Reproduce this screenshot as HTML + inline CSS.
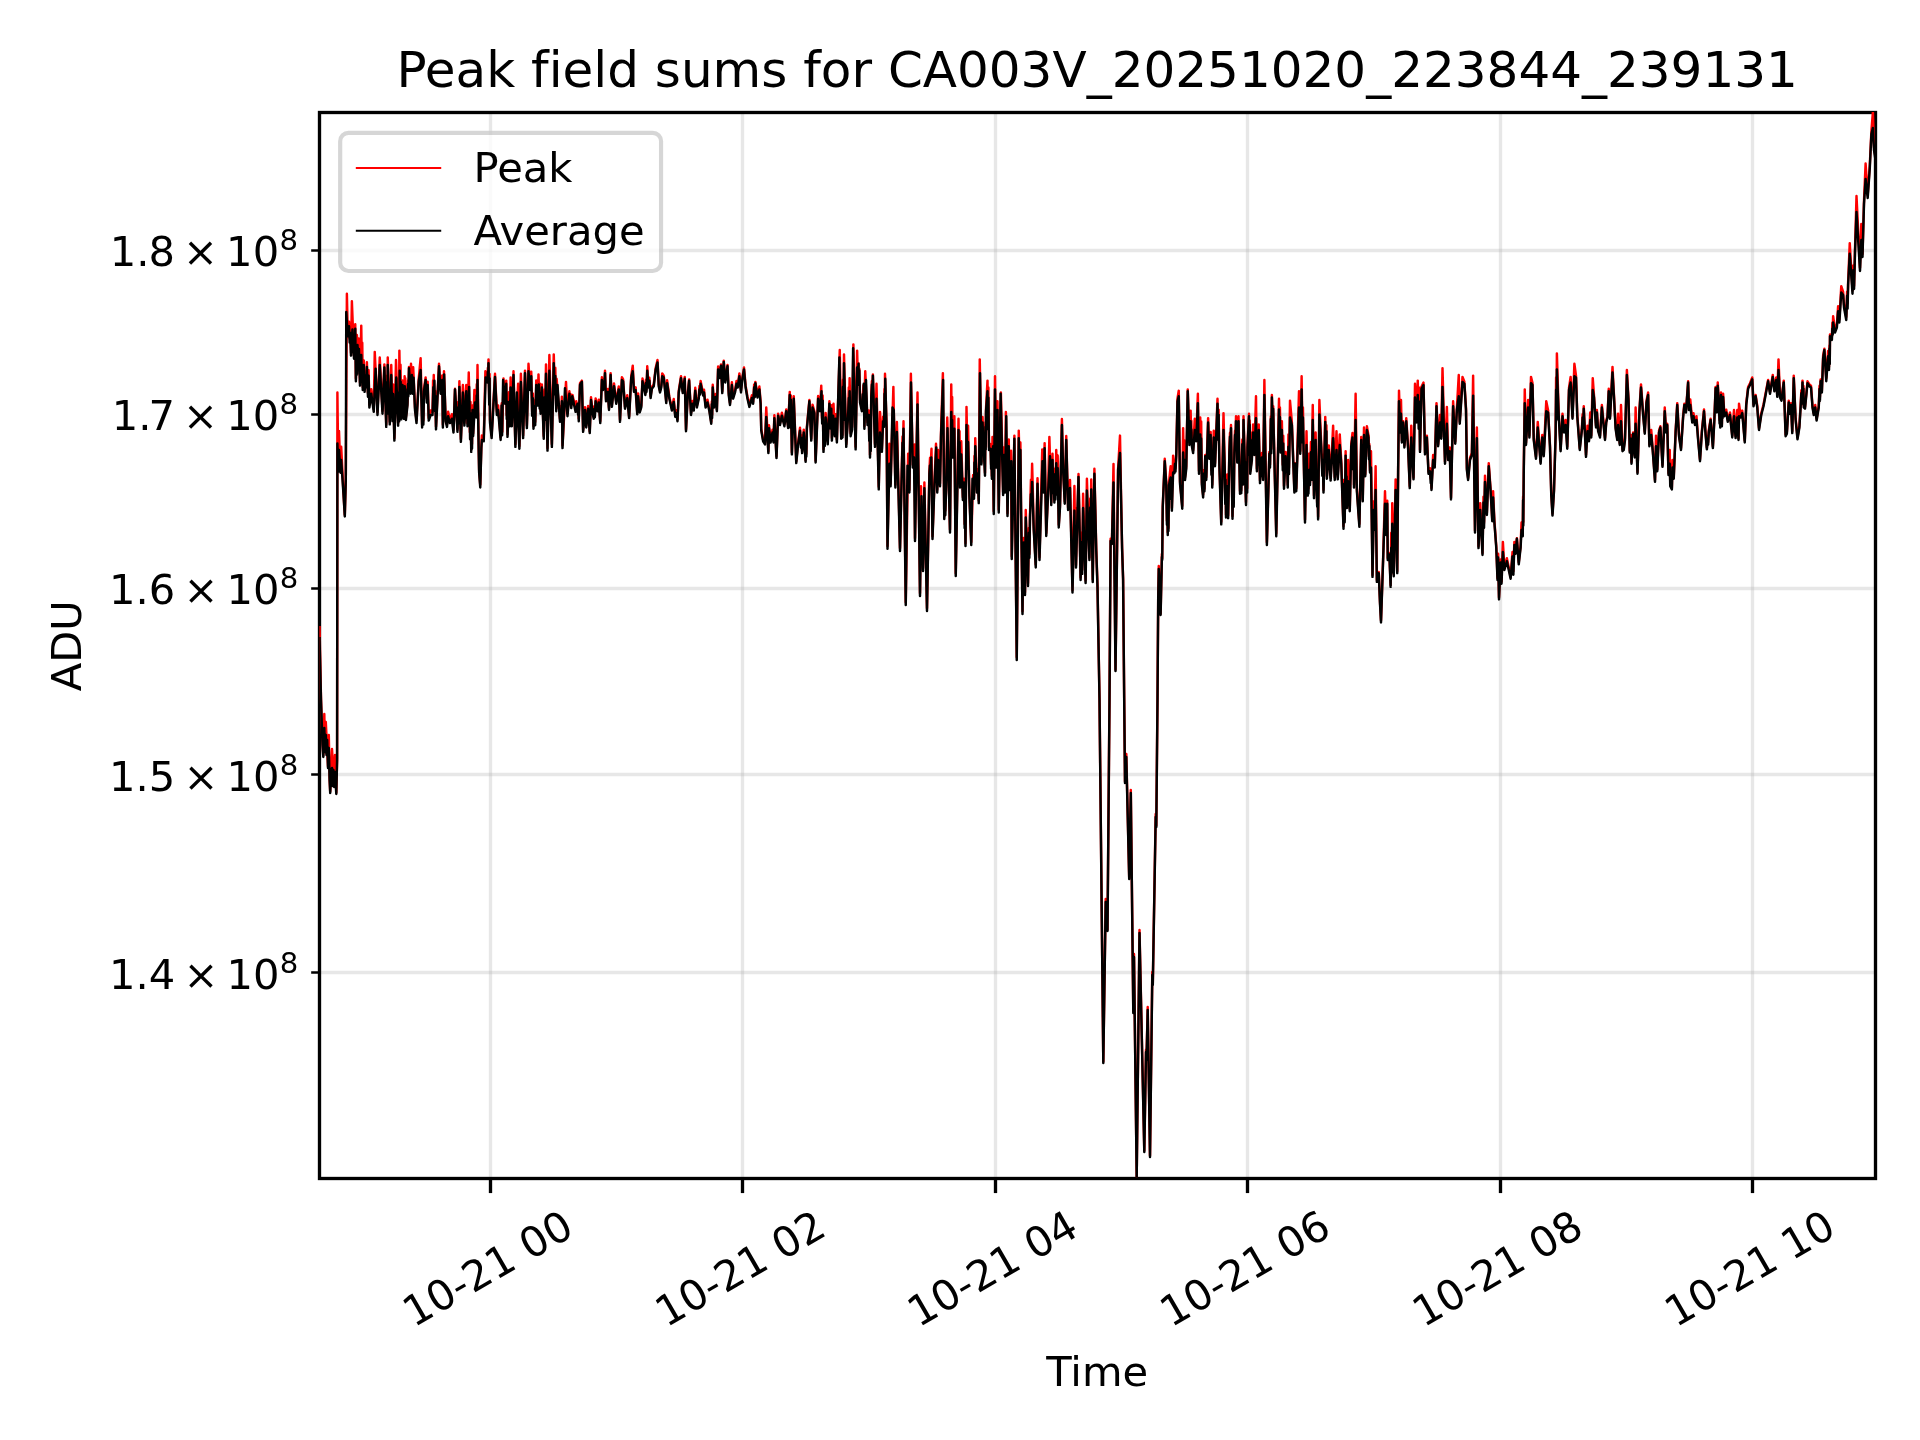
<!DOCTYPE html>
<html lang="en"><head><meta charset="utf-8"><title>Peak field sums for CA003V_20251020_223844_239131</title>
<style>html,body{margin:0;padding:0;background:#fff;overflow:hidden}svg{display:block;will-change:transform}text{font-family:"DejaVu Sans","Liberation Sans",sans-serif;fill:#000;font-variant-ligatures:none}.t{font-size:41.667px}.g{stroke:#b0b0b0;stroke-opacity:.3;stroke-width:3.333;fill:none}.d{fill:none;stroke-width:2.45;stroke-linejoin:round;stroke-linecap:butt}</style></head><body>
<svg width="1920" height="1440" viewBox="0 0 1920 1440">
<defs><clipPath id="c"><rect x="319.35" y="112" width="1555.65" height="1065.61"/></clipPath></defs>
<rect width="1920" height="1440" fill="#fff"/>
<path class="g" d="M490.5 1178.5 V112.5"/><path d="M490.5 1178.5 v14.58" stroke="#000" stroke-width="3.333"/>
<path class="g" d="M742.5 1178.5 V112.5"/><path d="M742.5 1178.5 v14.58" stroke="#000" stroke-width="3.333"/>
<path class="g" d="M995.5 1178.5 V112.5"/><path d="M995.5 1178.5 v14.58" stroke="#000" stroke-width="3.333"/>
<path class="g" d="M1247.5 1178.5 V112.5"/><path d="M1247.5 1178.5 v14.58" stroke="#000" stroke-width="3.333"/>
<path class="g" d="M1500.5 1178.5 V112.5"/><path d="M1500.5 1178.5 v14.58" stroke="#000" stroke-width="3.333"/>
<path class="g" d="M1752.5 1178.5 V112.5"/><path d="M1752.5 1178.5 v14.58" stroke="#000" stroke-width="3.333"/>
<path class="g" d="M319.5 972.5 H1875.5"/><path d="M319.5 972.5 h-8.33" stroke="#000" stroke-width="2.5"/>
<path class="g" d="M319.5 774.5 H1875.5"/><path d="M319.5 774.5 h-8.33" stroke="#000" stroke-width="2.5"/>
<path class="g" d="M319.5 588.5 H1875.5"/><path d="M319.5 588.5 h-8.33" stroke="#000" stroke-width="2.5"/>
<path class="g" d="M319.5 414.5 H1875.5"/><path d="M319.5 414.5 h-8.33" stroke="#000" stroke-width="2.5"/>
<path class="g" d="M319.5 250.5 H1875.5"/><path d="M319.5 250.5 h-8.33" stroke="#000" stroke-width="2.5"/>
<rect x="319.5" y="112.5" width="1556" height="1066" fill="none" stroke="#000" stroke-width="3.333"/>
<g clip-path="url(#c)">
<polyline class="d" stroke="#f00" points="319.5,626 321,698.5 322.5,743.5 323.3,755.5 324.3,714 325,750.5 325.8,722 326.5,753.5 325.8,722 328,766.5 328.8,735 329.6,778.5 330.2,791.5 331.2,768.5 332,749 332.6,784.5 332,749 334.2,785.5 335,755 336.3,792.5 337.1,758.5 337.4,392.5 338.3,470.2 339,431 340.5,471.2 341.2,446.7 343.5,493.1 344.8,515 345.8,478.5 346.88,293.75 347.75,333.55 349,321.65 349.64,338.5 350.2,327.34 351,352.93 351.88,301.25 354,356.05 354.62,334.88 354.98,346.81 355.25,324.15 355.88,378.55 356.34,349.53 356.6,369.2 356.88,335 357.85,358.48 358.69,338.44 360,382.93 361.25,325.62 361.94,370.75 362.27,342.69 362.75,387.3 363.75,360.4 364.62,389.18 365.74,370.86 366.29,383.35 366.88,362.27 367.96,392.97 368.6,370.14 369.38,404.8 371.25,389.15 373.75,409.18 374.75,351.88 377.5,412.3 379.75,357.5 382.5,411.05 384.38,364.38 386.25,424.18 386.91,375.62 387.36,409.12 387.75,357.5 389.75,421.68 390.34,387.5 390.66,406.61 391.25,365 392.43,415.13 393.08,384.39 394.38,437.93 396,360 398.12,422.93 398.6,378.9 398.96,416.79 399.38,350.62 400.03,389.83 400.51,364.84 401.25,416.68 401.77,388.09 402.1,403.53 402.5,380.4 403.1,407.63 403.46,389.81 403.75,416.05 404.12,392.27 404.3,405.93 404.62,376.25 405,395.92 405.26,378.17 405.88,417.3 407.5,402.3 408.03,380.41 408.38,391.84 409,366.88 410.62,391.05 411,363.75 412.28,386.9 413.19,367.19 415,407.3 416.5,420.43 418.75,378.55 420.62,358.12 422.12,424.8 422.89,402.63 423.37,420.51 424,388.55 425.62,377.5 426.79,398.45 427.66,381.84 428.75,417.93 430.62,410.4 432.5,412.3 433.08,380.48 433.43,399.34 433.75,375 434.66,406.72 435.11,390.9 436,426.68 439,363.75 440.62,391.05 442.25,375.4 442.88,424.8 444,371.25 445.62,418.55 447,424.18 448.12,411.65 450,420.43 451.88,414.15 453.5,429.8 455,388.75 457.5,429.18 458.15,402.07 458.56,418.35 459.38,381.25 460.88,439.18 462.88,385 464.38,422.93 466.25,385 466.79,413.5 467.14,395.3 467.5,423.55 468.75,372.5 469.9,432.29 470.5,402.04 471.25,449.18 471.66,426.75 472.02,444.02 472.5,405.4 473.12,433.55 474.38,390 476.25,414.8 476.76,384.32 477.01,409.76 477.5,365 478.75,451.05 479.12,469.8 480.25,484.8 481.38,444.8 481.88,435.4 483.75,438.55 485.38,371.25 487.5,379.8 487.85,367.86 488.07,376.67 488.5,359.38 489.22,400.03 489.59,374.06 490,419.8 491.62,435.43 495,373.75 496.88,412.3 498.12,405.4 500.62,437.3 501.74,403.17 502.32,431.65 503.5,378.5 505,401.05 506.25,380.62 506.75,415.1 507.1,398.24 507.5,434.18 508.92,392.34 509.72,421.05 510.62,377.5 511.88,423.55 513.5,371.25 515.38,444.18 518.12,383.75 519.38,446.05 520.88,373.75 523.12,435.43 525,370.62 526.88,425.43 528.5,363.75 530,387.3 531.25,371.65 532.18,412.24 532.82,393.41 533.5,426.05 534.46,400.85 535.19,422.09 536.25,380.4 537.5,402.93 538.5,374.38 539.51,403.65 539.98,383.74 540.62,411.05 541.88,384.38 543.75,436.05 544.62,389.58 545.15,413.78 546,364.38 547.5,447.93 549.38,355 551.88,444.18 553.75,354.38 554.78,388.28 555.28,367.76 556.25,408.55 556.44,384.04 556.55,394.21 556.62,378.75 560,419.18 560.61,406.04 561.16,417.07 561.88,396.65 562.5,445.43 566,381.88 567.5,413.55 569.38,391.25 569.96,397.87 570.41,393.96 571.25,405.43 572.5,395 575.62,409.18 576.25,401.25 577.43,411.55 578.14,403.97 578.75,418.55 580,383.2 581.88,380.62 583.12,430.07 585,407.2 586.25,425.7 588.12,405.95 589.75,431.32 591,397.2 592.5,410.7 593.75,416.95 594.39,406.14 594.82,414.47 595.62,398.45 597.5,409.45 598.75,399.7 600.25,421.32 601.88,377.2 603.12,388.2 603.78,378.98 604.29,385.84 605,370.62 606,399.45 607.75,389.07 609,408.2 610.62,373.12 611.88,405.07 614,383.45 616.25,401.95 618.75,386.57 620,420.07 621.88,377.2 623.12,379.45 625,406.95 627.25,395.32 629.12,416.32 631.25,375.7 632.75,365.62 634,390.07 635.62,387.2 637.25,412.57 638.12,393.45 639.75,410.7 641.25,405.7 642.5,378.45 644.38,388.2 645.38,393.2 645.99,379.67 646.5,389.63 647.25,366.25 648.5,385.7 649.38,377.82 650.62,396.32 651.88,386.95 653.75,384.45 655.62,368.2 657.5,360 658.75,384.45 660,390.7 661.25,385.7 662.25,373.45 663.75,375.7 666.25,401.32 667.12,380.32 669.38,396.95 671.88,408.82 673.75,399.07 675.25,415.07 676.25,410.32 677.5,419.45 678.75,390.7 681,376.25 682.75,391.32 684.75,376.88 686,429.45 687.75,393.2 689.12,379.38 691,413.2 692.5,400.95 693.75,408.82 695.25,387.82 696.88,405.7 698.75,396.95 699.46,386 699.92,392.6 700.62,380.95 703.12,393.82 704,389.7 705.62,405.7 707.5,399.7 709.38,409.45 711.25,421.95 711.82,401.44 712.12,414.74 712.75,384.7 714,405.7 715.62,394.07 716.88,409.45 718.12,366.57 719.38,376.32 721,364.38 722.25,391.32 723.75,360.62 725.25,380.7 727.5,365 728.75,393.2 730,403.2 731.88,382.2 733.12,396.95 735,390.7 736.5,380.95 737.75,385.7 739.38,373.45 741,390.7 742.25,378.2 744,367.5 745.62,385.7 747.5,396.95 749.38,405.07 751.88,395.32 753.12,401.95 754.18,384.36 754.77,395.41 755.38,381.88 757.5,395.7 759.38,386.57 760.62,401.95 761.25,428.82 763.12,439.45 765,442.57 766.25,407.5 768.38,451.32 769,425.32 770.62,440.7 772.5,429.7 773.5,440.7 774.38,415.32 776.5,456.32 778.12,413.75 780,423.2 781.88,412.82 784.38,424.45 786.25,409.38 788.12,426.32 789.75,391.88 790.44,424.07 790.89,395.48 791.88,452.57 793.75,396.25 796.25,461.32 798.12,442.57 800,427.82 800.98,444.35 801.51,435.34 802.12,451.32 803.75,429.7 805.62,460.07 806.07,436.63 806.34,453.65 806.88,426.95 809.38,400 811.25,438.82 812.5,404.7 814.38,411.32 815.62,460.7 818.12,395.95 820,408.55 821.25,385.62 821.99,418.19 822.61,395.4 823.5,449.18 824.25,425.44 824.82,442 825.62,412.9 827.75,441.68 829.38,401.25 830.57,425.74 831.32,405.27 831.88,437.93 833.5,403.75 834.75,433.55 835.62,414.15 836.88,439.8 839.75,350 841.25,436.05 842.5,434.8 843.01,379.74 843.34,414.79 844,354.38 846.25,444.18 848.12,412.3 848.82,387.38 849.25,402.3 849.62,378.12 850.62,433.55 852.12,426.68 853.38,344.38 855.62,446.68 857.12,350.62 857.88,379.8 858.5,363.12 858.95,382.98 859.32,368.8 860,399.8 861.88,408.55 863.45,385.24 864.38,402.65 865.25,371.25 864.38,426.05 865.25,371.25 867.5,422.3 868.75,410.4 869.22,436.45 869.59,416.46 870,454.8 870.39,424.13 870.74,447.79 871.25,394.8 871.9,380.98 872.29,391.54 872.88,374.38 875,444.18 876.5,383.75 878.75,486.68 880,411.88 881.88,449.18 883.12,416.65 884,424.18 884.45,388.98 884.72,412.71 885,373.75 886.62,427.3 887.5,546.05 889.38,443.75 889.87,466.2 890.16,448.34 890.62,483.55 893.38,386.88 893.75,407.3 895.38,484.8 896.88,421.88 900,548.3 901.88,464.8 902.54,436.5 902.9,449.93 903.5,421.25 905.75,602.3 908.12,453.75 909.38,489.8 910.88,373.75 912.75,464.8 914.62,444.38 915,538.3 917.5,392.5 920,593.3 921,486.25 921.96,554.01 922.45,526.74 923,568.3 924.38,482.5 927,608.3 929.38,471.05 930.05,457.77 930.53,467.77 931.5,448.75 932.5,536.3 934.38,483.55 936,443.75 937.25,489.8 938.12,450 938.81,467.53 939.24,451.68 940,483.55 941,433.55 942.88,373.12 944.25,516.3 944.87,499.71 945.29,510.83 946,489.8 947.25,417.5 950,529.8 951.25,384.38 951.71,425.34 952.14,397.05 952.75,454.8 953.54,423.44 954,444.66 954.38,416.25 955.75,573.3 958.5,418.75 959.11,463.09 959.55,431.12 960,484.8 961.25,441.25 962.88,497.3 963.39,484.58 963.72,493.49 964,478.75 964.64,523.98 964.96,503.36 965.5,543.3 966.5,406.88 967.49,459.25 968.07,425.72 969.38,493.55 971.25,542.3 973.12,475 974,496.05 974.44,455.95 974.77,476.83 975.25,438.12 976.88,489.8 977.75,469.15 978.75,500.43 979.75,359.38 981.5,461.68 981.93,426.57 982.16,440.23 982.5,416.88 985,472.93 985.46,422.24 985.71,446.17 986,408.55 987.5,380.62 988.02,422.73 988.36,387.48 989,447.3 990.62,444.15 991.1,464.62 991.47,454.25 991.88,476.05 992.5,436.88 993.75,511.3 995,376.25 996.25,464.8 996.64,433.01 996.94,458.25 997.5,401.25 998.75,509.8 1000.88,392.5 1003.12,492.3 1003.75,447.5 1005,489.8 1005.88,411.88 1007.5,513.3 1008.75,439.38 1009.17,470.36 1009.51,456.17 1010,487.3 1010.37,466.42 1010.57,478.78 1011,450.62 1011.75,556.3 1014.38,435.62 1016.75,657.3 1018.75,430.62 1019.86,478.03 1020.39,442.59 1021,502.3 1022.5,611.3 1022.99,565.12 1023.36,589.62 1023.75,537.9 1024.23,575.61 1024.57,558.68 1025,592.3 1025.75,510 1028,583.3 1028.9,528.01 1029.37,553.91 1030,514.8 1030.94,479.77 1031.43,494.81 1032.12,463.75 1033.75,527.3 1035.75,564.8 1037.5,478.12 1039.5,557.3 1042.25,449.38 1042.77,472.53 1043.21,452.11 1043.75,489.8 1044.62,443.12 1046.25,533.3 1048.12,489.8 1049.38,436.88 1051.25,502.3 1051.83,464.27 1052.18,488.78 1052.5,453.75 1053.2,483.5 1053.59,468.43 1054.38,499.8 1054.95,469.78 1055.39,493.84 1056.25,450 1057.04,485.47 1057.67,455.52 1058.75,524.8 1060,505.1 1061.9,419 1063.1,467.6 1064.75,501.35 1066.25,436 1068.1,507.6 1070,480 1072.5,590.1 1074.4,486 1075.15,538.07 1075.56,508.04 1076,565.1 1078.5,474 1080.6,577.6 1081.47,532.53 1082.19,569.67 1083.1,493.75 1085.6,580.6 1086.9,478.75 1089.4,557.6 1090.25,498.6 1090.81,523.37 1091.25,479.4 1092.75,579.6 1094.4,468.75 1096.25,548.6 1097.5,585.1 1099.5,698.5 1103.3,1061.5 1105.7,899 1107.5,929.5 1109.5,698.5 1110.6,538.8 1111.9,542.5 1113.5,464 1115.5,669.5 1118.1,468.5 1120,435.6 1121.25,506 1122.1,547.5 1123.1,578.5 1124.2,698.5 1125,781.5 1126.3,754 1129.2,877.5 1130.8,790 1133.3,1011.5 1134,954 1136.7,1176.5 1139.5,930 1144.3,1150.5 1146,1049.8 1146.5,1058.5 1147.7,1007 1150,1155.5 1152.3,972 1152.8,983.5 1155.7,814 1156.3,825.5 1157.5,698.5 1158.2,598.5 1158.75,566 1160.6,613.5 1161.9,554 1162.2,558.5 1162.75,505.5 1164.75,458.75 1166.25,482.3 1166.93,520.79 1167.25,499.15 1167.75,532.3 1168.16,505.04 1168.44,527.89 1169,482.3 1170.62,466.25 1171.08,492.98 1171.35,476.04 1171.88,507.93 1173.12,455.62 1174.38,470.43 1174.98,460.97 1175.45,468.59 1176.25,453.55 1177.5,398.55 1178.75,390.62 1180,481.05 1182.25,506.05 1183.12,428.12 1183.8,461.94 1184.24,440.1 1185,477.3 1186.25,466.05 1187.75,389.38 1189.38,442.3 1190.62,410.62 1191.05,429.73 1191.32,420.76 1191.88,443.55 1193.12,450.43 1194.75,418.75 1196.25,438.55 1197.88,393.75 1199,471.05 1200.25,417.5 1200.74,453.82 1201.17,421.44 1201.88,482.3 1203.12,494.8 1203.98,469.86 1204.46,488.62 1205.25,455 1206.25,477.3 1208.12,418.12 1209.38,456.05 1209.78,439.89 1210.15,448.32 1210.62,431.88 1211.41,470.26 1211.87,453.39 1212.25,484.8 1213.75,430.62 1215,463.55 1217.5,398.75 1218.14,435.67 1218.62,409.77 1219.38,463.55 1221.25,521.67 1223.5,413.12 1224.75,467.3 1225.27,500.98 1225.52,475.81 1226,514.8 1227.25,474.38 1228.12,515.42 1229.38,449.8 1230,432.77 1230.39,444.31 1231,425 1232.5,516.05 1233.29,469.99 1233.71,503.16 1234.38,449.8 1235.02,430.63 1235.36,443.6 1236,416.25 1237.25,459.8 1237.78,432.92 1238.13,455.37 1238.5,416.25 1240,491.05 1241.25,490.43 1242.35,439.46 1243,480.01 1243.5,416.25 1246,502.3 1246.74,459.15 1247.19,488.32 1247.5,444.8 1249,413.75 1249.46,451.67 1249.73,420.56 1250.25,471.05 1251.88,457.3 1252.38,432.11 1252.65,444.52 1253.12,424.38 1253.55,437.07 1253.91,426.27 1254.38,452.3 1256,396.25 1256.88,468.55 1257.64,437.25 1258.08,460.09 1258.75,424.38 1260,480.43 1260.93,458.58 1261.38,470.87 1261.88,452.9 1263.12,477.3 1264.38,380 1266.88,542.3 1269.38,451.88 1270,464.8 1270.85,416.44 1271.26,448.82 1271.88,395 1272.68,422.3 1273.16,406.13 1273.75,431.05 1276.25,533.55 1279,398.75 1279.54,427.75 1279.93,407.42 1280.62,449.8 1281.16,432.88 1281.41,443.48 1281.88,421.25 1282.76,464.66 1283.23,435.79 1284,486.05 1285.62,451.88 1286.33,466.74 1286.89,453.71 1287.75,484.8 1288.43,434.58 1289.01,467.61 1290,400.62 1291.88,422.3 1294.38,489.8 1295,463.12 1296.25,488.55 1299,391.25 1299.6,429.02 1299.92,405.37 1300.25,451.05 1301.62,376.25 1302.5,435.69 1302.95,407.53 1303.75,457.3 1305,519.8 1306.5,431.25 1307.75,492.93 1308.2,468.95 1308.46,488.36 1309,453.75 1309.47,474.77 1309.72,461.36 1310,482.3 1310.95,441.93 1311.6,474.43 1312.75,405 1314,495.43 1315.62,432.5 1316.5,479.8 1317.17,503.16 1317.62,486.52 1318.12,516.67 1319.38,400 1321.25,444.8 1322.32,471.62 1322.83,455.06 1323.5,489.8 1325.25,416.88 1326.02,456.55 1326.39,425.24 1326.88,476.05 1328.75,445.4 1330.62,477.93 1333.12,425.62 1334.75,477.3 1336.5,431.25 1337.75,476.68 1339.75,434.38 1341.25,461.05 1343.5,526.05 1344.23,479.62 1344.67,519.32 1345.62,451.25 1346.23,489.35 1346.5,471.4 1346.88,505.43 1348.12,460 1349.75,508.55 1351.25,443.55 1352.5,432.9 1353.13,464.37 1353.55,439.82 1354,484.8 1355.62,393.75 1356.88,488.55 1359.38,524.17 1361.25,436.9 1361.76,467.32 1362.07,440.62 1362.75,499.3 1364,427.5 1365.25,474.3 1366.88,426.25 1368.5,435.55 1368.98,456.44 1369.31,443.95 1370,470.55 1371,451.25 1372.5,574.92 1373.75,501.25 1374.38,528.05 1375.62,466.25 1376.88,579.92 1378.75,571.88 1380,601.8 1381,620.55 1383.12,558.05 1385,491.25 1386.25,533.05 1387.25,500.65 1387.75,558.05 1389.38,553.12 1390.62,584.92 1391.25,532.81 1391.7,564.78 1392.25,503.12 1393.75,574.3 1395.62,479.38 1397.25,571.17 1398.12,470.55 1399,390.62 1400.25,430.55 1401,400 1401.88,440.55 1402.45,426.52 1402.71,432.85 1403.12,421.25 1403.62,435.97 1403.97,427.85 1404.38,445.55 1406.25,418.12 1408.12,446.8 1409.75,486.18 1411.25,425.62 1413.5,477.43 1415,383.75 1416.5,420.55 1417.75,380.62 1418.71,420.18 1419.34,387.63 1420,449.93 1421.5,386.8 1423.5,382.5 1425,452.43 1426.88,435.62 1428.5,471.8 1430,468.15 1430.72,478.94 1431.05,472.46 1431.5,488.05 1433.12,455 1434.75,465.55 1436.5,403.12 1438.12,444.3 1440,415 1441.25,436.8 1442.5,368.12 1445,461.8 1446.88,406.88 1448.12,458.05 1449.75,447.5 1451,497.43 1453.12,401.25 1455.25,441.8 1456.88,408.05 1458.75,375 1459.75,421.8 1462.5,376.88 1464.38,381.8 1466,408.05 1466.88,468.05 1468.12,478.05 1470,458.05 1471.88,453.05 1473.12,375.62 1475,530.55 1476.88,427.5 1478.5,546.17 1480.25,503.12 1482.5,553.05 1483.48,496.75 1484.04,522.88 1485,475.62 1486.88,513.05 1488.75,463.12 1490.62,489.3 1492.25,519.3 1493.12,491.25 1494.38,520.55 1496.25,545.55 1497.5,578.05 1498.12,553.75 1499,597.42 1500.62,559.4 1501.5,581.8 1502.88,541.88 1504.38,568.05 1506.88,558.15 1510.62,576.8 1512.47,552.08 1513.37,571.26 1514.38,541.9 1515.62,551.8 1516.88,538.12 1518.75,562.42 1520.62,545.55 1521.5,522.5 1522.75,534.3 1523.09,496.45 1523.29,522.13 1523.75,470.55 1524.75,389.38 1526,443.05 1528.12,400 1528.65,422.31 1528.99,403.28 1529.38,435.55 1531,376.88 1532.5,383.05 1533.75,438.05 1536,456.8 1537.75,421.88 1540.62,461.8 1542.25,435 1543.75,454.3 1546.25,401.25 1548.12,410.55 1550,445.55 1551.25,493.05 1552.5,513.67 1554,489.3 1555.62,433.05 1556.1,377.54 1556.44,413.64 1556.88,353.38 1558.75,414.3 1560.62,449.3 1562.5,413.75 1564,430.55 1565.62,420 1567.25,446.8 1569,388.05 1570.62,376.88 1572.5,416.8 1574.38,363.75 1576,375.55 1577.25,414.3 1579.75,448.05 1581.88,428.05 1582.64,414.13 1583.16,426.1 1583.75,406.25 1586,454.93 1587.5,425.62 1589,439.3 1590.25,412.5 1591.25,435.55 1592.75,378.12 1594,395.55 1596,425.55 1596.88,410 1598.12,429.3 1600,435.7 1601.88,405 1605,438.2 1606.25,420.7 1607.5,415.7 1608.75,388.75 1610,416.95 1612.5,366.88 1614,395.7 1615.62,426.95 1617.25,438.2 1618.12,413.75 1619.75,443.2 1620.19,420.02 1620.45,434.92 1621,405 1622.5,449.45 1623.75,448.2 1625,438.2 1626.88,370 1628.5,398.2 1629.75,450.7 1631,435 1631.5,461.95 1633.12,432.5 1634.75,455.7 1635.62,407.5 1637.5,471.95 1639.38,410.7 1641,384.38 1643.12,413.2 1644.75,431.95 1646.5,400.7 1648.12,392.5 1649.38,444.45 1651.25,430 1652.75,449.45 1655,480.07 1656,435.62 1657.25,469.45 1659,430.7 1660.38,426.25 1662.5,465.07 1664.75,407.5 1666,430.7 1667.25,423.75 1668.5,473.2 1669.75,450 1670.25,484.45 1671.88,487.57 1672.5,460 1673.75,476.95 1675.62,430.7 1677.25,403.12 1679,434.45 1681,448.2 1683.12,415.7 1684.38,403.75 1686,410.7 1688.12,381.25 1689,408.2 1690.25,399.38 1692.25,420.7 1693.5,413.12 1695,423.2 1696.5,416.25 1698.12,438.2 1700,459.45 1701.88,430.7 1704,409.38 1705.62,433.2 1706.88,447.57 1707.71,435.64 1708.13,442.07 1708.75,430.7 1710.62,418.75 1712.88,446.32 1714.38,418.2 1715.62,386.88 1716.88,410.7 1717.75,382.5 1719,405.7 1719.58,419.97 1719.93,413.67 1720.25,425.7 1721,392.5 1721.88,424.45 1722.25,404.52 1722.58,415.56 1723.12,393.75 1724.38,414.45 1726.25,409.7 1727.75,420.07 1730,412.5 1732.25,435.7 1734,410 1735.62,436.32 1737.25,410 1738.5,438.2 1739,403.75 1740.62,415.7 1742.25,410.62 1744.75,440.7 1746.25,403.2 1748.12,386.95 1750,383.2 1752.25,377.5 1753.5,404.45 1755.62,395 1757.25,405.7 1759,428.2 1761.25,413.2 1763.5,404.45 1765.62,393.2 1768.12,380 1770,391.95 1772.75,375 1774.38,389.45 1776.25,377.5 1777.25,395.07 1778.5,359.38 1780,395.7 1781.5,398.82 1783.75,380.62 1785.62,434.45 1786.88,431.95 1788.75,400.62 1790,411.95 1791,403.12 1792.25,431.32 1793.75,375.62 1795.62,418.2 1797.5,437.57 1799.38,425.7 1800.62,405.7 1801.36,390.27 1801.83,400.27 1802.5,380.62 1803.09,396.79 1803.41,386.03 1803.75,405.7 1805,406.95 1807.5,381.25 1809.38,384.45 1811,385.7 1812.5,405.7 1813.75,413.2 1815.25,405 1816.62,418.82 1818.75,405.7 1819.55,385.79 1819.93,397.2 1820.62,379.38 1821.88,390.7 1823.12,355.75 1824.38,348.75 1826.25,378.25 1828.12,351.05 1829,367 1829.48,345.56 1829.75,359.41 1830,334.38 1831.88,337 1832.37,322.64 1832.71,329.99 1833.12,316.25 1835,329.5 1836.88,324.5 1838.12,306.25 1839.38,319.5 1841.25,286.25 1843.12,292 1844,304.5 1846.25,317 1847.12,291.62 1847.59,303.56 1848.12,282 1849.75,243.12 1852.5,290.75 1853.41,265.53 1854.06,285.94 1855,249.5 1856.5,196 1860,268 1861.3,224 1861.73,238.12 1861.99,225.08 1862.5,254 1864,201 1865.6,163.5 1867.7,195 1869.8,165 1871.4,131 1872.9,112 1874,147 1875.5,157"/>
<polyline class="d" stroke="#000" points="319.5,637 321,700 322.5,745 323.3,757 324.3,728 325,752 325.8,735 326.5,755 327.2,740 328,768 328.8,748 329.6,780 330.2,793 331.2,770 332,768 332.6,786 333.4,770 334.2,787 335,772 336.3,794 337.1,760 337.4,443.5 338.3,471.7 339,450 340.5,472.7 341.2,460 343.5,494.6 344.8,516.5 345.8,480 346.25,311.88 347.75,336.25 349,326.25 349.64,342.5 350.2,332.77 351,355.62 352.5,329.38 354,358.75 354.62,339.11 354.98,350.29 355.25,328.75 355.88,381.25 356.63,357.71 357.05,374.38 357.5,345 358.28,365.44 358.95,348.91 360,385.62 361.25,355 361.94,381.2 362.27,365.68 362.75,390 363.75,365 364.62,391.88 365.74,375.13 366.29,387.37 366.88,366.88 367.96,396.8 368.6,375.72 369.38,407.5 371.25,393.75 373.75,411.88 375.62,368.75 377.5,415 379.75,365 382.5,413.75 384.38,367.5 386.25,426.88 386.91,382.34 387.36,413.62 387.75,365 389.75,424.38 390.34,395.94 390.66,411.48 391.25,375 392.43,421.1 393.08,394.04 394.38,440.62 396.25,377.5 398.12,425.62 398.75,392.36 399.22,421.23 399.75,370.62 400.27,399.57 400.66,381.74 401.25,419.38 401.77,393.46 402.1,408.2 402.5,385 403.1,411.52 403.46,394.67 403.75,418.75 404.18,399.6 404.38,411.04 404.75,386.25 405.09,402.46 405.32,389.27 405.88,420 407.5,405 408.03,383.98 408.38,396.18 409,368.12 410.62,393.75 411.88,375 412.88,393.86 413.58,377.8 415,410 416.5,423.12 418.75,381.25 420.62,370 422.12,427.5 422.89,407.05 423.37,424.6 424,391.25 425.62,380 426.79,402.62 427.66,385.02 428.75,420.62 430.62,415 432.5,415 433.37,387.18 433.9,404.42 434.38,380.62 435.03,411.08 435.36,396.11 436,429.38 439,366.25 440.62,393.75 442.25,380 442.88,427.5 444.12,374.38 445.62,421.25 447,426.88 448.12,416.25 450,423.12 451.88,418.75 453.5,432.5 455,389.38 457.5,431.88 458.15,407.6 458.56,423.4 459.38,386.88 460.88,441.88 462.88,392.5 464.38,425.62 466.25,391.25 466.79,417.99 467.14,400.93 467.5,426.25 469.12,386.88 470.1,439.17 470.61,413.14 471.25,451.88 471.66,430.7 472.02,448.52 472.5,410 473.12,436.25 475,402.5 476.25,417.5 476.76,395.53 477.01,414.5 477.5,380 478.75,453.75 479.12,472.5 480.25,487.5 481.38,447.5 481.88,440 483.75,441.25 485.62,377.5 487.5,382.5 487.85,371.67 488.07,380.32 488.5,363.12 489.22,404.85 489.59,378.38 490,422.5 491.62,438.12 495,376.88 496.88,415 498.12,410 500.62,440 501.6,405.52 502.1,435.2 503.12,380 505,403.75 506.25,383.75 506.75,419.07 507.1,401.72 507.5,436.88 508.92,402.02 509.72,426.21 510.62,387.5 511.88,426.25 513.5,375 515.38,446.88 516.88,392.5 519.38,448.75 520.88,381.88 523.12,438.12 525,373.12 526.88,428.12 528.5,371.25 530,390 531.25,376.25 532.18,415.65 532.82,398.1 533.5,428.75 534.46,406.32 535.19,425.25 536.25,385 537.5,405.62 538.75,384.38 539.64,408.46 540.06,392.66 540.62,413.75 541.88,387.5 543.75,438.75 544.62,397.19 545.15,419.87 546,373.75 547.5,450.62 549.38,370.62 551.88,446.88 553.75,363.12 554.78,394.35 555.28,375.93 556.25,411.25 556.87,390.13 557.24,398.69 557.5,385 560,421.88 560.61,410.32 561.16,420.23 561.88,401.25 562.5,448.12 565,388.12 567.5,416.25 569.38,393.75 569.96,402.36 570.41,397.79 571.25,408.12 572.25,396.25 575.62,411.88 577.5,403.75 578.09,414.85 578.45,407.62 578.75,421.25 580,385 581.88,381.88 583.12,431.88 585,410 586.25,427.5 588.12,408.75 589.75,433.12 591,400 592.5,412.5 593.75,418.75 594.39,409.08 594.82,417.35 595.62,401.25 597.5,411.25 598.75,402.5 600.25,423.12 601.88,380 603.12,390 603.78,381.51 604.29,388.65 605,373.12 606,401.25 607.75,391.88 609,410 610.62,375 611.88,406.88 614,386.25 616.25,403.75 618.75,389.38 620,421.88 621.88,380 623.12,381.25 625,408.75 627.25,398.12 629.12,418.12 631.25,377.5 632.75,371.25 634,391.88 635.62,390 637.25,414.38 638.12,396.25 639.75,412.5 641.25,407.5 642.5,381.25 644.38,390 645.38,395 645.99,383.05 646.5,391.92 647.25,370.62 648.5,387.5 649.38,380.62 650.62,398.12 651.88,388.75 653.75,386.25 655.62,370 657.5,362.5 658.75,386.25 660,392.5 661.25,387.5 662.25,376.25 663.75,377.5 666.25,403.12 667.12,383.12 669.38,398.75 671.88,410.62 673.75,401.88 675.25,416.88 676.25,413.12 677.5,421.25 678.75,392.5 681,378.12 682.75,393.12 684.75,378.75 686,431.25 687.75,395 689.12,380.62 691,415 692.5,403.75 693.75,410.62 695.25,390.62 696.88,407.5 698.75,398.75 699.46,389.43 699.92,394.68 700.62,383.75 703.12,395.62 704,392.5 705.62,407.5 707.5,402.5 709.38,411.25 711.25,423.75 711.82,404.24 712.12,417.87 712.75,387.5 714,407.5 715.62,396.88 716.88,411.25 718.12,369.38 719.38,378.12 721,365.62 722.25,393.12 723.75,361.88 725.25,382.5 727.5,366.25 728.75,395 730,405 731.88,385 733.12,398.75 735,392.5 736.5,383.75 737.75,387.5 739.38,376.25 741,392.5 742.25,380 744,369.38 745.62,387.5 747.5,398.75 749.38,406.88 751.88,398.12 753.12,403.75 754.18,387.34 754.77,397.32 755.38,383.12 757.5,397.5 759.38,389.38 760.62,403.75 761.25,430.62 763.12,441.25 765,444.38 766.25,416.88 768.38,453.12 769,428.12 770.62,442.5 772.5,432.5 773.5,442.5 774.38,418.12 776.5,458.12 778.12,415.62 780,425 781.88,415.62 784.38,426.25 786.25,411.25 788.12,428.12 789.75,395 790.44,427.58 790.89,399.75 791.88,454.38 793.75,398.75 796.25,463.12 798.12,444.38 800,430.62 800.98,447.71 801.51,437.95 802.12,453.12 803.75,432.5 805.62,461.88 806.07,440.38 806.34,456.44 806.88,428.75 809.38,401.25 811.25,440.62 812.5,407.5 814.38,413.12 815.62,462.5 818.12,398.75 820,411.25 821.5,391.25 822.16,423.4 822.71,400.6 823.5,451.88 824.25,429.94 824.82,446.06 825.62,417.5 827.75,444.38 829.38,403.75 830.57,428.4 831.32,408.71 831.88,440.62 833.12,415.62 834.75,436.25 835.62,418.75 836.88,442.5 839.38,357.5 841.25,438.75 842.5,437.5 843.01,386.84 843.34,419.97 844,363.12 846.25,446.88 848.12,415 848.82,398 849.25,409.3 849.62,391.25 850.62,436.25 852.12,429.38 853.12,348.12 855.62,449.38 857.12,367.5 857.88,382.5 858.5,363.75 858.95,385.03 859.32,370.48 860,402.5 861.88,411.25 862.75,394.24 863.27,408.26 863.75,383.75 864.38,428.75 866,380 867.5,425 868.75,415 869.22,440.63 869.59,421.62 870,457.5 870.39,428.7 870.74,450.98 871.25,397.5 871.9,384.59 872.29,395.75 872.88,375.62 875,446.88 876.5,398.75 878.75,489.38 880,432.5 881.88,451.88 883.12,421.25 884,426.88 884.56,393.83 884.9,416.02 885.25,378.75 886.62,430 887.5,548.75 889.38,463.75 889.87,477.55 890.16,466.64 890.62,486.25 892.5,407.5 893.75,410 895.38,487.5 896.88,431.88 900,551 901.88,467.5 902.54,442.69 902.9,455.88 903.5,428.75 905.75,605 907.5,465.62 909.38,492.5 911,382.5 912.75,467.5 914,457.5 915,541 917.5,404.38 920,596 921.5,496.25 922.22,558.33 922.59,533.3 923,571 924.38,488.12 927,611 929.38,473.75 929.97,465.36 930.4,472.45 931.25,457.5 932.5,539 934.38,486.25 936.25,447.5 937.25,492.5 938.12,460 938.81,473.91 939.24,462.1 940,486.25 941,436.25 943.12,380 944.25,519 944.87,504.32 945.29,515.23 946,492.5 947.5,428.12 950,532.5 951.25,411.88 951.71,439.17 952.14,420.09 952.75,457.5 953.54,434.49 954,450.1 954.38,428.75 955.75,576 958.5,430 959.11,469.73 959.55,442.1 960,487.5 961.25,454.38 962.88,500 963.39,488.57 963.72,496.65 964,482.5 964.64,528.03 964.96,507.86 965.5,546 966.5,425 967.49,468.81 968.07,442.07 969.38,496.25 971.25,545 972.5,478.75 974,498.75 974.44,462.44 974.77,482.23 975.25,446.25 976.88,492.5 977.75,473.75 978.75,503.12 980,373.12 981.5,464.38 981.93,432.19 982.16,445.11 982.5,422.5 985,475.62 985.46,426.88 985.71,449.49 986,411.25 987.5,391.25 988.02,429.22 988.36,397.62 989,450 990.62,448.75 991.1,468.74 991.47,458.65 991.88,478.75 993.12,446.25 993.75,514 995,389.38 996.25,467.5 996.64,440.34 996.94,462.9 997.5,410 998.75,512.5 1000.62,393.75 1003.12,495 1004,455 1005,492.5 1006.25,416.25 1007.5,516 1008.75,446.25 1009.17,475.75 1009.51,462.28 1010,490 1010.46,474.18 1010.71,484.82 1011.25,461.25 1011.75,559 1014.38,438.75 1016.75,660 1018.75,438.12 1019.86,483.89 1020.39,450.09 1021,505 1022.5,614 1022.99,569.72 1023.36,594.62 1023.75,542.5 1024.23,578.96 1024.57,562.68 1025,595 1025.75,517.5 1028,586 1028.9,532.63 1029.37,557.84 1030,517.5 1030.94,494.11 1031.43,504.83 1032.12,481.88 1033.75,530 1035.75,567.5 1037.5,483.75 1039.5,560 1042.5,461.25 1042.93,479.74 1043.3,463.75 1043.75,492.5 1044.62,448.12 1046.25,536 1048.12,492.5 1050,456.25 1051.25,505 1051.83,470.88 1052.18,493.07 1052.5,460 1053.2,488.85 1053.59,474 1054.38,502.5 1054.95,480.16 1055.39,499.35 1056.25,463.12 1057.04,494.42 1057.67,468.27 1058.75,527.5 1060,507.5 1061.9,425 1063.1,470 1064.75,503.75 1066.25,440 1068.1,510 1070,488 1072.5,592.5 1074.4,510.6 1075.15,549.12 1075.56,526.74 1076,567.5 1078.5,476.9 1080.6,580 1081.47,541.86 1082.19,573.87 1083.1,508 1085.6,583 1086.9,490.6 1089.4,560 1090.25,507.59 1090.81,530.58 1091.25,489.4 1092.75,582 1094.4,473.75 1096.25,551 1097.5,587.5 1099.5,700 1103.3,1063 1105.7,902 1107.5,931 1109.5,700 1110.6,541 1111.9,544 1113.5,482.5 1115.5,671 1118.1,470 1120,453 1121.25,507.5 1122.1,549 1123.1,580 1124.2,700 1125,783 1126.3,757 1129.2,879 1130.8,793 1133.3,1013 1134,957 1136.7,1178 1139.5,933 1144.3,1152 1146,1052 1146.5,1060 1147.7,1010 1150,1157 1152.3,975 1152.8,985 1155.7,817 1156.3,827 1157.5,700 1158.2,600 1158.75,569 1160.6,615 1161.9,557 1162.2,560 1162.75,507 1164.75,461.25 1166.25,485 1166.93,524.73 1167.25,502.28 1167.75,535 1168.16,509.05 1168.44,531 1169,485 1170.62,477.5 1171.08,499.07 1171.35,486.55 1171.88,510.62 1173.12,472.5 1174.38,473.12 1174.98,463.85 1175.45,471.61 1176.25,456.25 1177.5,401.25 1178.75,396.25 1180,483.75 1182.25,508.75 1183.12,452.5 1183.8,471.81 1184.24,459.66 1185,480 1186.25,468.75 1187.75,391.25 1189.38,445 1190.62,421.25 1191.05,437.13 1191.32,429.59 1191.88,446.25 1193.12,453.12 1194.75,430 1196.25,441.25 1197.88,403.12 1199,473.75 1200.25,434.38 1200.74,462.89 1201.17,438.43 1201.88,485 1203.12,497.5 1203.98,473.57 1204.46,491.32 1205.25,456.25 1206.25,480 1208.12,422.5 1209.38,458.75 1209.78,442.98 1210.15,452.97 1210.62,435 1211.41,474.63 1211.87,456.78 1212.25,487.5 1213.75,437.5 1215,466.25 1217.5,403.75 1218.14,439.6 1218.62,414.86 1219.38,466.25 1221.25,524.38 1223.5,430 1224.75,470 1225.27,503.91 1225.52,479.71 1226,517.5 1227.25,486.25 1228.12,518.12 1229.38,452.5 1230,436.64 1230.39,447.97 1231,428.12 1232.5,518.75 1233.29,474.25 1233.71,506.77 1234.38,452.5 1235.02,434.81 1235.36,447.55 1236,421.25 1237.25,462.5 1237.78,438.01 1238.13,458.4 1238.5,421.25 1240,493.75 1241.25,493.12 1242.35,444.32 1243,484.47 1243.5,420 1246,505 1246.74,462.18 1247.19,492.6 1247.5,447.5 1249,416.25 1249.46,454.86 1249.73,424.72 1250.25,473.75 1251.88,460 1252.38,439.8 1252.65,449.86 1253.12,432.5 1253.55,444.17 1253.91,434.3 1254.38,455 1256,418.12 1256.88,471.25 1257.64,443.06 1258.08,464.44 1258.75,430 1260,483.12 1260.93,463.28 1261.38,476.07 1261.88,457.5 1263.12,480 1264.38,395 1266.88,545 1269.38,453.75 1270,467.5 1270.85,419.1 1271.26,453.12 1271.88,397.5 1272.68,425.58 1273.16,408.69 1273.75,433.75 1276.25,536.25 1279,409.38 1279.54,435.38 1279.93,416.92 1280.62,452.5 1281.16,439.34 1281.41,448.08 1281.88,430 1282.76,470.22 1283.23,443.43 1284,488.75 1285.62,456.25 1286.33,471.84 1286.89,458.75 1287.75,487.5 1288.43,446.81 1289.01,473.94 1290,417.5 1291.88,425 1294.38,492.5 1295,463.75 1296.25,491.25 1299,407.5 1299.6,437.08 1299.92,418.51 1300.25,453.75 1301.62,389.38 1302.5,442.23 1302.95,417.52 1303.75,460 1305,522.5 1306.5,445 1307.75,495.62 1308.2,480.97 1308.46,493.57 1309,470 1309.47,481.52 1309.72,474.24 1310,485 1310.95,452.23 1311.6,479.8 1312.75,420 1314,498.12 1315.62,440 1316.5,482.5 1317.17,506.39 1317.62,490.51 1318.12,519.38 1319.38,414.38 1321.25,447.5 1322.32,475.81 1322.83,459.65 1323.5,492.5 1325.25,421.88 1326.02,461.22 1326.39,431.25 1326.88,478.75 1328.75,450 1330.62,480.62 1333.12,438.12 1334.75,480 1336.5,450 1337.75,479.38 1339.75,445 1341.25,463.75 1343.5,528.75 1344.23,483.64 1344.67,522.23 1345.62,455.62 1346.23,492.63 1346.5,476.5 1346.88,508.12 1348.12,481.25 1349.75,511.25 1351.25,446.25 1352.5,437.5 1353.13,469.54 1353.55,444.29 1354,487.5 1355.62,420 1356.88,491.25 1359.38,526.88 1361.25,440 1361.76,471.45 1362.07,444.9 1362.75,501.25 1364,435 1365.25,476.25 1366.88,430 1368.5,437.5 1368.98,459.24 1369.31,445.94 1370,472.5 1371,467.5 1372.5,576.88 1373.75,510 1374.38,530 1375.62,490 1376.88,581.88 1378.75,573.12 1380,603.75 1381,622.5 1383.12,560 1385,503.75 1386.25,535 1387.25,503.75 1387.75,560 1389.38,554.38 1390.62,586.88 1391.25,547.75 1391.7,572.16 1392.25,523.75 1393.75,576.25 1395.62,490 1397.25,573.12 1398.12,472.5 1399,401.25 1400.25,432.5 1401,413.75 1401.88,442.5 1402.45,429.54 1402.71,436.55 1403.12,422.5 1403.62,438.66 1403.97,430.01 1404.38,447.5 1406.25,421.25 1408.12,448.75 1409.75,488.12 1411.25,437.5 1413.5,479.38 1415,397.5 1416.5,422.5 1417.75,395 1418.71,428.75 1419.34,401.78 1420,451.88 1421.5,388.75 1423.5,385 1425,454.38 1426.88,437.5 1428.5,473.75 1430,471.25 1430.72,483.11 1431.05,476.25 1431.5,490 1433.12,460 1434.75,467.5 1436.5,406.25 1438.12,446.25 1440,422.5 1441.25,438.75 1442.5,386.88 1445,463.75 1446.88,423.75 1448.12,460 1449.75,451.25 1451,499.38 1453.12,406.25 1455.25,443.75 1456.88,410 1458.75,396.25 1459.75,423.75 1462.5,381.88 1464.38,383.75 1466,410 1466.88,470 1468.12,480 1470,460 1471.88,455 1473.12,395.62 1475,532.5 1476.88,438.12 1478.5,548.12 1480.25,510 1482.5,555 1483.48,502.39 1484.04,527.83 1485,481.88 1486.88,515 1488.75,466.25 1490.62,491.25 1492.25,521.25 1493.12,497.5 1494.38,522.5 1496.25,547.5 1497.5,580 1498.12,557.5 1499,599.38 1500.62,562.5 1501.5,583.75 1502.88,551.88 1504.38,570 1506.88,561.25 1510.62,578.75 1512.47,556.38 1513.37,574.81 1514.38,545 1515.62,553.75 1516.88,538.75 1518.75,564.38 1520.62,547.5 1521.5,530 1522.75,536.25 1523.09,499.98 1523.29,525.46 1523.75,472.5 1524.75,403.12 1526,445 1528.12,407.5 1528.65,427.05 1528.99,411.24 1529.38,437.5 1531,383.12 1532.5,385 1533.75,440 1536,458.75 1537.75,427.5 1540.62,463.75 1542.25,437.5 1543.75,456.25 1546.25,411.25 1548.12,412.5 1550,447.5 1551.25,495 1552.5,515.62 1554,491.25 1555.62,435 1556.1,389.69 1556.44,419.71 1556.88,369.38 1558.75,416.25 1560.62,451.25 1562.5,416.25 1564,432.5 1565.62,425 1567.25,448.75 1569,390 1570.62,382.5 1572.5,418.75 1574.38,376.25 1576,377.5 1577.25,416.25 1579.75,450 1581.88,430 1582.64,417.44 1583.16,428.3 1583.75,408.75 1586,456.88 1587.5,431.25 1589,441.25 1590.25,420 1591.25,437.5 1592.75,390 1594,397.5 1596,427.5 1596.88,412.5 1598.12,431.25 1600,437.5 1601.88,407.5 1605,440 1606.25,422.5 1607.5,417.5 1608.75,391.25 1610,418.75 1612.5,372.5 1614,397.5 1615.62,428.75 1617.25,440 1618.12,425 1619.75,445 1620.19,431.11 1620.45,440.72 1621,421.25 1622.5,451.25 1623.75,450 1625,440 1626.88,375 1628.5,400 1629.75,452.5 1631,438.75 1631.5,463.75 1633.12,433.75 1634.75,457.5 1635.62,423.75 1637.5,473.75 1639.38,412.5 1641,387.5 1643.12,415 1644.75,433.75 1646.5,402.5 1648.12,395 1649.38,446.25 1651.25,435 1652.75,451.25 1655,481.88 1656,446.25 1657.25,471.25 1659,432.5 1660.38,427.5 1662.5,466.88 1664.75,411.25 1666,432.5 1667.25,425 1668.5,475 1669.75,463.75 1670.25,486.25 1671.88,489.38 1672.5,467.5 1673.75,478.75 1675.62,432.5 1677.25,405 1679,436.25 1681,450 1683.12,417.5 1684.38,405 1686,412.5 1688.12,382.5 1689,410 1690.25,405 1692.25,422.5 1693.5,416.25 1695,425 1696.5,420 1698.12,440 1700,461.25 1701.88,432.5 1704,411.25 1705.62,435 1706.88,449.38 1707.71,438.4 1708.13,444.73 1708.75,432.5 1710.62,420 1712.88,448.12 1714.38,420 1715.62,388.12 1716.88,412.5 1717.75,385.62 1719,407.5 1719.58,423.43 1719.93,416.73 1720.25,427.5 1721,395 1721.88,426.25 1722.25,407.37 1722.58,418.02 1723.12,396.88 1724.38,416.25 1726.25,412.5 1727.75,421.88 1730,415 1732.25,437.5 1734,416.25 1735.62,438.12 1737.25,417.5 1738.5,440 1739,416.25 1740.62,417.5 1742.25,413.12 1744.75,442.5 1746.25,405 1748.12,388.75 1750,385 1752.25,379.38 1753.5,406.25 1755.62,396.25 1757.25,407.5 1759,430 1761.25,415 1763.5,406.25 1765.62,395 1768.12,381.25 1770,393.75 1772.75,376.88 1774.38,391.25 1776.25,380 1777.25,396.88 1778.5,370 1780,397.5 1781.5,400.62 1783.75,382.5 1785.62,436.25 1786.88,433.75 1788.75,402.5 1790,413.75 1791,405 1792.25,433.12 1793.75,378.12 1795.62,420 1797.5,439.38 1799.38,427.5 1800.62,407.5 1801.36,393.19 1801.83,403.81 1802.5,382.5 1803.09,400.29 1803.41,388.64 1803.75,407.5 1805,408.75 1807.5,383.12 1809.38,386.25 1811,387.5 1812.5,407.5 1813.75,415 1815.25,407.5 1816.62,420.62 1818.75,407.5 1819.55,389 1819.93,400.88 1820.62,381.25 1821.88,392.5 1823.12,358.75 1824.38,350 1826.25,381.25 1828.12,356.25 1829,370 1829.48,348.53 1829.75,363.93 1830,336.25 1831.88,340 1832.37,328.62 1832.71,334.8 1833.12,322.5 1835,332.5 1836.88,327.5 1838.12,311.25 1839.38,322.5 1841.25,292.5 1843.12,295 1844,307.5 1846.25,320 1847.12,295.63 1847.59,308.51 1848.12,285 1849.75,253.75 1852.5,293.75 1853.41,270.1 1854.06,289.02 1855,252.5 1856.5,212 1860,271 1861.3,240 1861.73,248.69 1861.99,241.36 1862.5,257 1864,204 1865.6,179 1867.7,198 1869.8,168 1871.4,134 1872.9,128 1874,150 1875.5,160"/>
</g>
<text class="t" transform="translate(413.78 1327.86) rotate(-30)">10-21 00</text>
<text class="t" transform="translate(666.19 1327.86) rotate(-30)">10-21 02</text>
<text class="t" transform="translate(918.6 1327.86) rotate(-30)">10-21 04</text>
<text class="t" transform="translate(1171.01 1327.86) rotate(-30)">10-21 06</text>
<text class="t" transform="translate(1423.42 1327.86) rotate(-30)">10-21 08</text>
<text class="t" transform="translate(1675.83 1327.86) rotate(-30)">10-21 10</text>
<text class="t" text-anchor="middle" x="1097.17" y="1386.29">Time</text>
<text class="t" transform="translate(109.01 992.83)"><tspan x="0" y="-4.07">1</tspan><tspan x="26.51" y="-4.07">.</tspan><tspan x="39.75" y="-4.07">4</tspan><tspan x="74.38" y="-4.07">×</tspan><tspan x="117.41" y="-4.07">1</tspan><tspan x="143.92" y="-4.07">0</tspan><tspan x="170.83" y="-20.02" font-size="29.167px">8</tspan></text>
<text class="t" transform="translate(109.01 794.83)"><tspan x="0" y="-4.07">1</tspan><tspan x="26.51" y="-4.07">.</tspan><tspan x="39.75" y="-4.07">5</tspan><tspan x="74.38" y="-4.07">×</tspan><tspan x="117.41" y="-4.07">1</tspan><tspan x="143.92" y="-4.07">0</tspan><tspan x="170.83" y="-20.02" font-size="29.167px">8</tspan></text>
<text class="t" transform="translate(109.01 608.1)"><tspan x="0" y="-4.07">1</tspan><tspan x="26.51" y="-4.07">.</tspan><tspan x="39.75" y="-4.07">6</tspan><tspan x="74.38" y="-4.07">×</tspan><tspan x="117.41" y="-4.07">1</tspan><tspan x="143.92" y="-4.07">0</tspan><tspan x="170.83" y="-20.02" font-size="29.167px">8</tspan></text>
<text class="t" transform="translate(111.85 434.1)"><tspan x="0" y="-4.07">1</tspan><tspan x="26.51" y="-4.07">.</tspan><tspan x="36.63" y="-4.07">7</tspan><tspan x="71.26" y="-4.07">×</tspan><tspan x="114.29" y="-4.07">1</tspan><tspan x="140.8" y="-4.07">0</tspan><tspan x="167.7" y="-20.02" font-size="29.167px">8</tspan></text>
<text class="t" transform="translate(109.76 270.1)"><tspan x="0" y="-4.07">1</tspan><tspan x="26.51" y="-4.07">.</tspan><tspan x="38.71" y="-4.07">8</tspan><tspan x="73.34" y="-4.07">×</tspan><tspan x="116.37" y="-4.07">1</tspan><tspan x="142.88" y="-4.07">0</tspan><tspan x="169.79" y="-20.02" font-size="29.167px">8</tspan></text>
<text class="t" text-anchor="middle" transform="translate(80.68 645.8) rotate(-90)">ADU</text>
<text text-anchor="middle" font-size="50px" x="1097.17" y="87">Peak field sums for CA003V_20251020_223844_239131</text>
<rect x="340.18" y="132.83" width="320.88" height="138.17" rx="8.33" ry="8.33" fill="#fff" stroke="#ccc" stroke-width="4.1667" opacity="0.8"/>
<path d="M356.85 167.92 H440.18" stroke="#f00" stroke-width="2.0833" stroke-linecap="square"/>
<text class="t" x="473.51" y="182.2">Peak</text>
<path d="M356.85 230.75 H440.18" stroke="#000" stroke-width="2.0833" stroke-linecap="square"/>
<text class="t" x="473.51" y="245">Average</text>
</svg>
</body></html>
